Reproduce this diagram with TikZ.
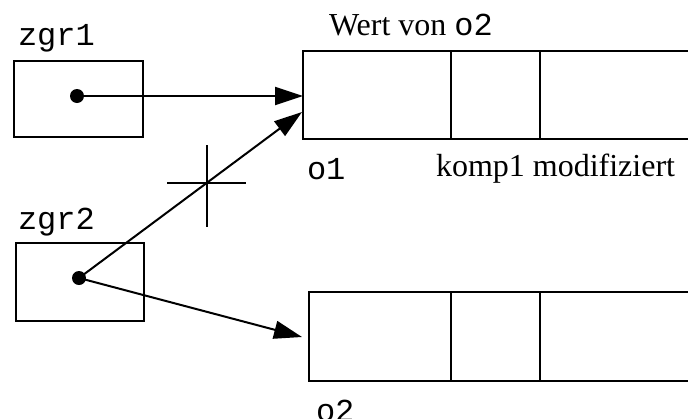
\documentclass[tikz,border=0pt]{standalone}
\usepackage{fontspec}
\setmainfont{Liberation Serif}
\setmonofont{Liberation Mono}
\usetikzlibrary{arrows.meta,calc}
\begin{document}
\begin{tikzpicture}[x=1pt,y=-1pt,
  line width=2pt,
  lbl/.style={inner sep=0pt,anchor=base west,font=\fontsize{32}{38}\selectfont},
  ptrbox/.style={draw,rectangle,minimum width=129pt,minimum height=76pt,inner sep=0pt,outer sep=0pt},
  cell/.style={draw,rectangle,inner sep=0pt,outer sep=0pt,minimum height=88pt},
  dot/.style={circle,fill,inner sep=0pt,minimum size=14pt},
  ptr/.style={-{Triangle[length=28pt,width=18pt]}},
  tick/.style={line width=1.6pt}]
\useasboundingbox (0,0) rectangle (688,418);
\clip (0,0) rectangle (688,418);

% pointer variables
\node[ptrbox] (zgr1box) at (78.5,99) {};
\node[ptrbox,minimum width=128pt,minimum height=78pt] (zgr2box) at (80,282) {};
\node[lbl] (zgr1) at (17,45) {\texttt{zgr1}};
\node[lbl] (zgr2) at (17,229) {\texttt{zgr2}};
\node[dot] (d1) at (77,96) {};
\node[dot] (d2) at (79,278) {};

% object o1 (upper record)
\node[cell,minimum width=148pt] (o1a) at (377,95) {};
\node[cell,minimum width=89pt] (o1b) at (495.5,95) {};
\node[cell,minimum width=180pt] (o1c) at (630,95) {};
% object o2 (lower record)
\node[cell,minimum width=142pt,minimum height=89pt] (o2a) at (380,336.5) {};
\node[cell,minimum width=89pt,minimum height=89pt] (o2b) at (495.5,336.5) {};
\node[cell,minimum width=180pt,minimum height=89pt] (o2c) at (630,336.5) {};

% labels
\node[lbl] (wert) at (328,35) {Wert von \texttt{o2}};
\node[lbl] (o1lbl) at (306,179) {\texttt{o1}};
\node[lbl] (komp) at (435,176) {komp1 modifiziert};
\node[lbl] (o2lbl) at (315,421) {\texttt{o2}};

% arrow ends
\coordinate (t2) at (302,112);
\coordinate (t3) at (302,337);
\coordinate (x) at (207,183);

% pointers
\draw[ptr] (d1.center) -- (d1.center -| o1a.west);
\draw[ptr] (d2.center) -- (t2);
\draw[ptr] (d2.center) -- (t3);

% crossed-out reference
\draw[tick] ($(x)+(-40,0)$) -- ($(x)+(39,0)$);
\draw[tick] ($(x)+(0,-38)$) -- ($(x)+(0,44)$);
\end{tikzpicture}
\end{document}
